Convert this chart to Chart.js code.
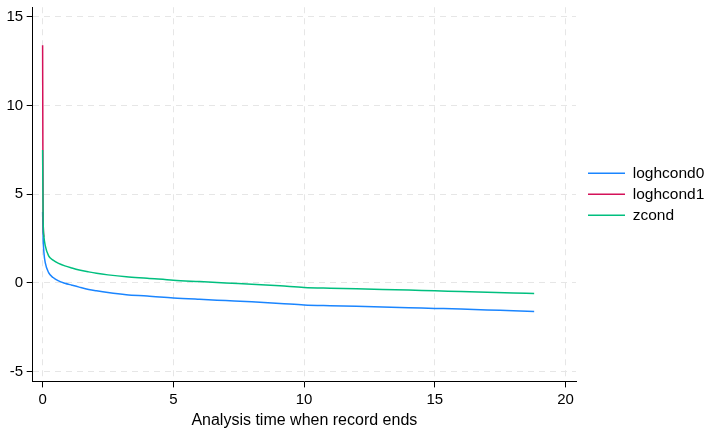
<!DOCTYPE html>
<html>
<head>
<meta charset="utf-8">
<script src="https://cdn.jsdelivr.net/npm/chart.js@4/dist/chart.umd.min.js"></script>
<style>
html,body{margin:0;padding:0;background:#fff;}
#wrap{position:relative;width:708px;height:429px;}
</style>
</head>
<body>
<div id="wrap"><canvas id="c" width="708" height="429"></canvas></div>
<script>
// Analysis time values (x) for each series
const xZcond = [0, 0.02, 0.05, 0.1, 0.23, 0.4, 0.61, 0.85, 1.12, 1.4, 1.76, 2.06, 2.5, 3.2, 4, 5, 6, 7, 8, 9.08, 10, 11, 12, 13, 14, 15, 16, 17, 18, 18.8];
const zcond = [7.5, 3.5, 2.6, 2.1, 1.52, 1.28, 1.1, 0.96, 0.84, 0.73, 0.62, 0.54, 0.45, 0.34, 0.26, 0.15, 0.07, -0.01, -0.08, -0.17, -0.26, -0.3, -0.33, -0.37, -0.41, -0.45, -0.49, -0.53, -0.57, -0.6];

const xLogh0 = [0, 0.02, 0.05, 0.1, 0.23, 0.4, 0.61, 0.85, 1.12, 1.4, 1.76, 2.06, 2.5, 3.2, 4, 5, 6, 7, 8, 9.08, 10, 11, 12, 13, 14, 15, 16, 17, 18, 18.8];
const loghcond0 = [4.0, 2.5, 1.7, 1.14, 0.58, 0.3, 0.11, -0.02, -0.13, -0.24, -0.37, -0.45, -0.55, -0.67, -0.74, -0.85, -0.93, -1.0, -1.07, -1.16, -1.25, -1.29, -1.32, -1.36, -1.4, -1.44, -1.48, -1.53, -1.57, -1.61];

const xLogh1 = [0, 0.01, 0.02, 0.05];
const loghcond1 = [13.4, 7.5, 3.5, 2.6];

const xTicks = [0, 5, 10, 15, 20];
const yTicks = [-5, 0, 5, 10, 15];

const seriesNames = ['loghcond0', 'loghcond1', 'zcond'];
const seriesColors = ['#1a85ff', '#d41159', '#00bf7f'];

function pts(xs, ys) { return xs.map((x, i) => ({x: x, y: ys[i]})); }

const FONT = "'Liberation Sans', Arial, Helvetica, sans-serif";
const LEGEND_WIDTH = 132;
const LEGEND_SHIFT = 6.5;

const datasets = [
  {label: seriesNames[0], data: pts(xLogh0, loghcond0), order: 3},
  {label: seriesNames[1], data: pts(xLogh1, loghcond1), order: 2},
  {label: seriesNames[2], data: pts(xZcond, zcond), order: 1}
].map((d, i) => Object.assign(d, {
  borderColor: seriesColors[i],
  backgroundColor: seriesColors[i],
  borderWidth: 1.5,
  pointRadius: 0,
  showLine: true,
  cubicInterpolationMode: 'monotone'
}));

// fixed legend box width, items shifted a little to the right
const legendGapPlugin = {
  id: 'legendGap',
  beforeLayout(chart) {
    const lg = chart.legend;
    if (!lg || lg._gapPatched) return;
    lg._gapPatched = true;
    const fit = lg.fit;
    lg.fit = function () { fit.call(this); this.width = LEGEND_WIDTH; };
    const draw = lg.draw;
    lg.draw = function () { this.left += LEGEND_SHIFT; draw.call(this); this.left -= LEGEND_SHIFT; };
  }
};

new Chart(document.getElementById('c'), {
  type: 'scatter',
  data: {datasets: datasets},
  plugins: [legendGapPlugin],
  options: {
    responsive: false,
    animation: false,
    layout: {padding: {left: 3, top: 0.7, right: 0, bottom: 0}},
    plugins: {
      tooltip: {enabled: false},
      legend: {
        position: 'right',
        align: 'center',
        fullSize: false,
        labels: {
          boxWidth: 37,
          boxHeight: 1.5,
          padding: 5.5,
          color: '#000',
          font: {family: FONT, size: 15.5},
          generateLabels: (chart) => chart.data.datasets.map((d, i) => ({
            text: d.label,
            fillStyle: d.borderColor,
            strokeStyle: d.borderColor,
            lineWidth: 0,
            hidden: false,
            datasetIndex: i,
            fontColor: '#000'
          }))
        }
      }
    },
    scales: {
      x: {
        type: 'linear',
        min: -0.38,
        max: 20.4,
        afterBuildTicks: (s) => { s.ticks = xTicks.map(v => ({value: v})); },
        ticks: {color: '#000', font: {family: FONT, size: 15}, padding: 3, maxRotation: 0, autoSkip: false},
        grid: {color: '#e6e6e6', lineWidth: 1, tickColor: '#000', tickLength: 6, tickBorderDash: [], tickWidth: 1},
        border: {display: true, color: '#000', width: 1, dash: [6, 5]},
        title: {display: true, text: 'Analysis time when record ends', color: '#000', font: {family: FONT, size: 16, lineHeight: 1.1}, padding: {top: 0, bottom: 0}}
      },
      y: {
        type: 'linear',
        min: -5.56,
        max: 15.55,
        afterBuildTicks: (s) => { s.ticks = yTicks.map(v => ({value: v})); },
        ticks: {color: '#000', font: {family: FONT, size: 15, lineHeight: 0.5}, padding: 3.5, autoSkip: false},
        grid: {color: '#e6e6e6', lineWidth: 1, tickColor: '#000', tickLength: 6, tickBorderDash: [], tickWidth: 1},
        border: {display: true, color: '#000', width: 1, dash: [6, 5]}
      }
    }
  }
});
</script>
</body>
</html>
